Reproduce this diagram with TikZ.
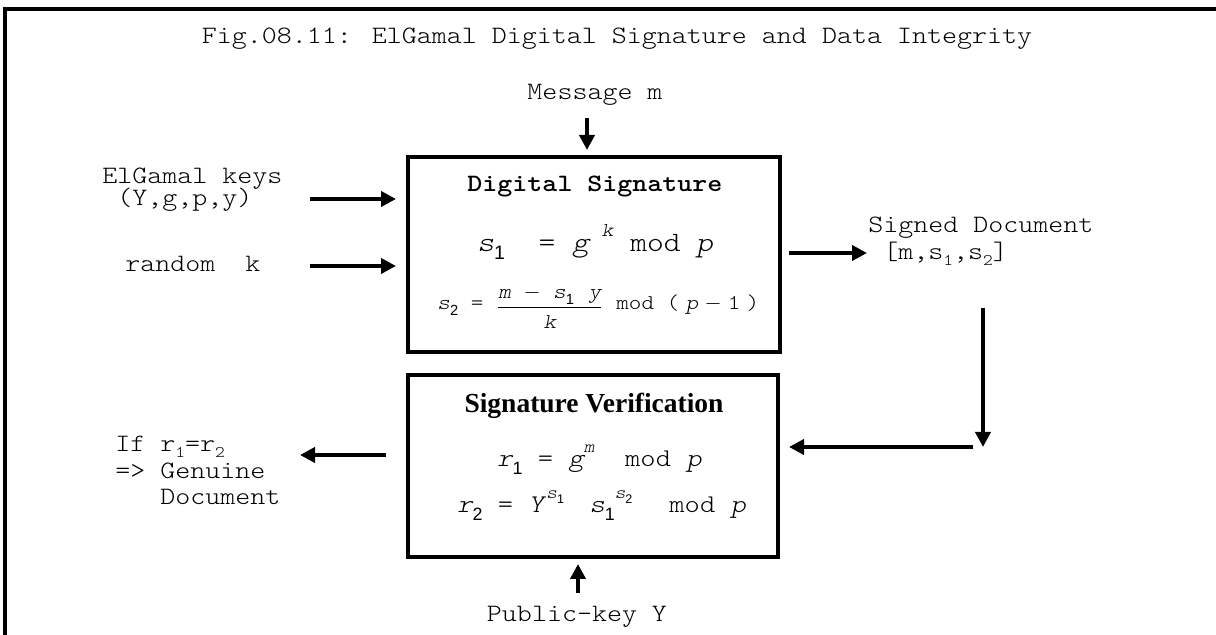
\documentclass[tikz,border=0pt]{standalone}
\usepackage{fontspec}
\setmainfont{Liberation Serif}
\newfontfamily\cour[FakeStretch=1.143]{Latin Modern Mono Light}
\newfontfamily\courit[FakeStretch=1.143,FakeSlant=0.2]{Latin Modern Mono Light}
\newfontfamily\ari{Liberation Sans}
\newfontfamily\tnr{Liberation Serif}
\usetikzlibrary{arrows.meta}

% sans subscript / superscript helpers for the formulas
\newcommand\lo[1]{\raisebox{-0.28em}{\scalebox{0.7}{\ari #1}}}
\newcommand\hi[1]{\raisebox{0.55em}{\scalebox{0.7}{#1}}}
% small typewriter subscript for plain labels
\newcommand\lt[1]{\raisebox{-0.22em}{\scalebox{0.65}{#1}}}
\newcommand\V[1]{{\courit #1}}
\newcommand\mn{\ensuremath{-}}

\begin{document}
\begin{tikzpicture}[x=0.5pt,y=-0.5pt,
  txt/.style={font=\cour\fontsize{12.5}{15}\selectfont, inner sep=0pt, anchor=base},
  txtl/.style={txt, anchor=base west},
  box/.style={draw, line width=2pt, inner sep=0pt},
  arr/.style={line width=2pt, -{Triangle[length=7.5pt,width=7.5pt]}},
  frame/.style={line width=1.8pt}
]
\useasboundingbox (0,0) rectangle (1216,635);

% outer frame (top and left edges)
\draw[frame] (5,635) -- (5,9) -- (1216,9);

% title
\node[txt] (title) at (617,44) {Fig.08.11: ElGamal Digital Signature and Data Integrity};

% signing box
\node[box, minimum width=186pt, minimum height=97.5pt] (sig) at (594,254.5) {};
\node[txt, font=\cour\bfseries\fontsize{12.5}{15}\selectfont] (sigt) at (595,192) {Digital Signature};
\node[txtl, font=\cour\fontsize{14}{16}\selectfont] (s1) at (477,252)
  {\V{s}\lo{1}\ \ =\ \V{g}\hspace{0.45em}\hi{\V{k}}\ mod\hspace{0.55em}\V{p}};
\node[txtl, font=\cour\fontsize{10.5}{12}\selectfont] (s2) at (437,310)
  {\V{s}\lo{2}\ =\ \raisebox{-0.15em}{$\displaystyle\frac{\mbox{\V{m}\ \mn\ \V{s}\lo{1}\hspace{0.7em}\V{y}}}{\mbox{\V{k}}}$}\ mod\ (\hspace{0.3em}\V{p}\hspace{0.3em}\mn\hspace{0.3em}1\hspace{0.3em})};

% verification box
\node[box, minimum width=185pt, minimum height=91pt] (ver) at (593,466) {};
\node[txt, font=\tnr\bfseries\fontsize{13.75}{16}\selectfont] (vert) at (594,413) {Signature Verification};
\node[txtl, font=\cour\fontsize{12.75}{15}\selectfont] (r1) at (497,467)
  {\V{r}\lo{1}\ =\ \V{g}\hi{\V{m}}\ \ mod\ \V{p}};
\node[txtl, font=\cour\fontsize{12.75}{15}\selectfont] (r2) at (457,513)
  {\V{r}\lo{2}\ =\ \V{Y}\hspace{0.1em}\hi{\V{s}\lo{1}}\ \hspace{0.4em}\V{s}\lo{1}\hi{\V{s}\lo{2}}\ \ \hspace{0.25em}mod\ \V{p}};

% inputs and outputs
\node[txt] (msg) at (595,100) {Message m};
\node[txtl] (keys) at (102,184) {ElGamal keys};
\node[txtl] (keyv) at (102,206) {\ (Y,g,p,y)};
\node[txtl] (rnd) at (125,272) {random\ \ k};
\node[txtl] (sd) at (868,233) {Signed Document};
\node[txtl] (sdv) at (868,260) {\ [m,s\lt{1},s\lt{2}]};
\node[txtl] (if1) at (115,452) {If r\lt{1}=r\lt{2}};
\node[txtl] (if2) at (115,479) {=> Genuine};
\node[txtl] (if3) at (115,505) {\ \ \ Document};
\node[txt] (pub) at (577,622) {Public-key Y};

% connector end points
\coordinate (mA) at (587,118);
\coordinate (kA) at (310,199);
\coordinate (rA) at (310,266);
\coordinate (oB) at (867,253);
\coordinate (dA) at (983,308);
\coordinate (dB) at (983,447);
\coordinate (lA) at (973,447);
\coordinate (gB) at (300,455);
\coordinate (uA) at (578,593);

% connectors
\draw[arr, shorten >=2.5pt] (mA) -- (mA |- sig.north);
\draw[arr, shorten >=5pt] (kA) -- (kA -| sig.west);
\draw[arr, shorten >=5pt] (rA) -- (rA -| sig.west);
\draw[arr, shorten <=3.5pt] (sig.east |- oB) -- (oB);
\draw[arr] (dA) -- (dB);
\draw[arr, shorten >=4.5pt] (lA) -- (lA -| ver.east);
\draw[arr, shorten <=10pt] (ver.west |- gB) -- (gB);
\draw[arr, shorten >=2.5pt] (uA) -- (uA |- ver.south);
\end{tikzpicture}
\end{document}
